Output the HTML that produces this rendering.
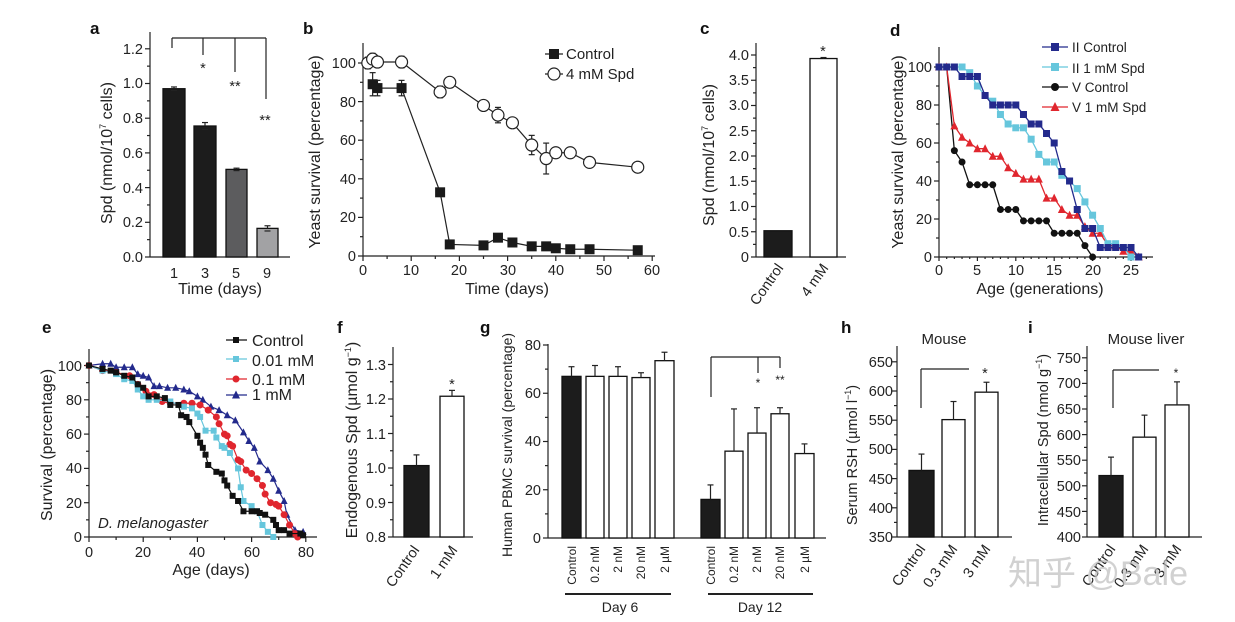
<!DOCTYPE html>
<html><head><meta charset="utf-8"><style>
body{margin:0;background:#fff}
svg{display:block;font-family:"Liberation Sans","Noto Sans CJK SC",sans-serif}
.t{font-size:14.5px;fill:#222}
.e{text-anchor:end}
.m{text-anchor:middle}
.al{font-size:16px;fill:#222;text-anchor:middle}
.p{font-size:17px;font-weight:bold;fill:#111}
</style></head><body>
<svg id="s" width="1235" height="622" viewBox="0 0 1235 622" xmlns="http://www.w3.org/2000/svg">
<g id="g"></g>
<text class="p" x="90" y="34">a</text><text class="p" x="303" y="34">b</text><text class="p" x="700" y="34">c</text><text class="p" x="890" y="36">d</text>
<text class="p" x="42" y="333">e</text><text class="p" x="337" y="333">f</text><text class="p" x="480" y="333">g</text><text class="p" x="841" y="333">h</text><text class="p" x="1028" y="333">i</text>
<!-- a -->
<g class="t e"><text x="143" y="262">0.0</text><text x="143" y="227">0.2</text><text x="143" y="193">0.4</text><text x="143" y="158">0.6</text><text x="143" y="123">0.8</text><text x="143" y="88">1.0</text><text x="143" y="54">1.2</text></g>
<g class="t m"><text x="174" y="278">1</text><text x="205" y="278">3</text><text x="236" y="278">5</text><text x="267" y="278">9</text></g>
<text class="al" x="220" y="294">Time (days)</text>
<text class="al" transform="translate(112,153) rotate(-90)">Spd (nmol/10<tspan font-size="9" dy="-6">7</tspan><tspan dy="6"> cells)</tspan></text>
<g class="t m"><text x="203" y="73">*</text><text x="235" y="91">**</text><text x="265" y="125">**</text></g>
<!-- b -->
<g class="t e"><text x="356" y="261">0</text><text x="356" y="222">20</text><text x="356" y="184">40</text><text x="356" y="145">60</text><text x="356" y="107">80</text><text x="356" y="68">100</text></g>
<g class="t m"><text x="363" y="275">0</text><text x="411" y="275">10</text><text x="459" y="275">20</text><text x="508" y="275">30</text><text x="556" y="275">40</text><text x="604" y="275">50</text><text x="652" y="275">60</text></g>
<text class="al" x="507" y="294">Time (days)</text>
<text class="al" transform="translate(320,152) rotate(-90)">Yeast survival (percentage)</text>
<text class="t" x="566" y="59" style="font-size:15px">Control</text><text class="t" x="566" y="79" style="font-size:15px">4 mM Spd</text>
<!-- c -->
<g class="t e"><text x="749" y="262">0</text><text x="749" y="237">0.5</text><text x="749" y="211">1.0</text><text x="749" y="186">1.5</text><text x="749" y="161">2.0</text><text x="749" y="136">2.5</text><text x="749" y="110">3.0</text><text x="749" y="85">3.5</text><text x="749" y="60">4.0</text></g>
<text class="al" transform="translate(714,155) rotate(-90)">Spd (nmol/10<tspan font-size="9" dy="-6">7</tspan><tspan dy="6"> cells)</tspan></text>
<text class="t e" transform="translate(784,268) rotate(-55)">Control</text>
<text class="t e" transform="translate(829,268) rotate(-55)">4 mM</text>
<text class="t m" x="823" y="56">*</text>
<!-- d -->
<g class="t e"><text x="932" y="262">0</text><text x="932" y="224">20</text><text x="932" y="186">40</text><text x="932" y="148">60</text><text x="932" y="110">80</text><text x="932" y="72">100</text></g>
<g class="t m"><text x="939" y="275">0</text><text x="977" y="275">5</text><text x="1016" y="275">10</text><text x="1054" y="275">15</text><text x="1093" y="275">20</text><text x="1131" y="275">25</text></g>
<text class="al" x="1040" y="294">Age (generations)</text>
<text class="al" transform="translate(903,152) rotate(-90)">Yeast survival (percentage)</text>
<g class="t" style="font-size:13.5px"><text x="1072" y="52">II Control</text><text x="1072" y="73">II 1 mM Spd</text><text x="1072" y="92">V Control</text><text x="1072" y="112">V 1 mM Spd</text></g>
<!-- e -->
<g class="t e"><text x="82" y="542">0</text><text x="82" y="508">20</text><text x="82" y="473">40</text><text x="82" y="439">60</text><text x="82" y="405">80</text><text x="82" y="371">100</text></g>
<g class="t m"><text x="89" y="557">0</text><text x="143" y="557">20</text><text x="197" y="557">40</text><text x="252" y="557">60</text><text x="306" y="557">80</text></g>
<text class="al" x="211" y="575">Age (days)</text>
<text class="al" transform="translate(52,445) rotate(-90)">Survival (percentage)</text>
<text class="t" x="98" y="528" style="font-style:italic;font-size:15px">D. melanogaster</text>
<g class="t" style="font-size:16px"><text x="252" y="346">Control</text><text x="252" y="366">0.01 mM</text><text x="252" y="385">0.1 mM</text><text x="252" y="400">1 mM</text></g>
<!-- f -->
<g class="t e"><text x="386" y="542">0.8</text><text x="386" y="508">0.9</text><text x="386" y="473">1.0</text><text x="386" y="439">1.1</text><text x="386" y="404">1.2</text><text x="386" y="370">1.3</text></g>
<text class="al" transform="translate(357,440) rotate(-90)">Endogenous Spd (µmol g<tspan font-size="9" dy="-6">−1</tspan><tspan dy="6">)</tspan></text>
<text class="t e" transform="translate(420,550) rotate(-55)">Control</text>
<text class="t e" transform="translate(458,550) rotate(-55)">1 mM</text>
<text class="t m" x="452" y="389">*</text>
<!-- g -->
<g class="t e"><text x="541" y="543">0</text><text x="541" y="495">20</text><text x="541" y="446">40</text><text x="541" y="398">60</text><text x="541" y="350">80</text></g>
<text class="al" transform="translate(512,445) rotate(-90)" style="font-size:14px">Human PBMC survival (percentage)</text>
<g class="t e" style="font-size:12px">
<text transform="translate(576,546) rotate(-90)">Control</text><text transform="translate(599,546) rotate(-90)">0.2 nM</text><text transform="translate(622,546) rotate(-90)">2 nM</text><text transform="translate(645,546) rotate(-90)">20 nM</text><text transform="translate(669,546) rotate(-90)">2 µM</text>
<text transform="translate(715,546) rotate(-90)">Control</text><text transform="translate(738,546) rotate(-90)">0.2 nM</text><text transform="translate(761,546) rotate(-90)">2 nM</text><text transform="translate(784,546) rotate(-90)">20 nM</text><text transform="translate(809,546) rotate(-90)">2 µM</text></g>
<text class="al" x="620" y="612" style="font-size:14px">Day 6</text><text class="al" x="760" y="612" style="font-size:14px">Day 12</text>
<g class="t m" style="font-size:12px"><text x="758" y="387">*</text><text x="780" y="384">**</text></g>
<!-- h -->
<g class="t e" style="font-size:14.5px"><text x="893" y="542">350</text><text x="893" y="513">400</text><text x="893" y="484">450</text><text x="893" y="454">500</text><text x="893" y="425">550</text><text x="893" y="396">600</text><text x="893" y="367">650</text></g>
<text class="al" transform="translate(857,455) rotate(-90)" style="font-size:14.5px">Serum RSH (µmol l<tspan font-size="9" dy="-6">−1</tspan><tspan dy="6">)</tspan></text>
<text class="al" x="944" y="344" style="font-size:15px">Mouse</text>
<g class="t e" style="font-size:14.5px"><text transform="translate(926,549) rotate(-55)">Control</text><text transform="translate(958,549) rotate(-55)">0.3 mM</text><text transform="translate(991,549) rotate(-55)">3 mM</text></g>
<text class="t m" x="985" y="378">*</text>
<!-- i -->
<g class="t e" style="font-size:14.5px"><text x="1081" y="542">400</text><text x="1081" y="517">450</text><text x="1081" y="491">500</text><text x="1081" y="465">550</text><text x="1081" y="440">600</text><text x="1081" y="414">650</text><text x="1081" y="388">700</text><text x="1081" y="363">750</text></g>
<text class="al" transform="translate(1048,440) rotate(-90)" style="font-size:14.5px">Intracellular Spd (nmol g<tspan font-size="9" dy="-6">−1</tspan><tspan dy="6">)</tspan></text>
<text class="al" x="1146" y="344" style="font-size:15px">Mouse liver</text>
<g class="t e" style="font-size:14.5px"><text transform="translate(1116,549) rotate(-55)">Control</text><text transform="translate(1149,549) rotate(-55)">0.3 mM</text><text transform="translate(1182,549) rotate(-55)">3 mM</text></g>
<text class="t m" x="1176" y="377" style="font-size:12px">*</text>
<text x="1008" y="585" style="font-size:34px;fill:rgba(190,190,190,0.7)">知乎 @Bale</text>
</svg>
<script>
const G=document.getElementById('g');const NS='http://www.w3.org/2000/svg';
function E(t,a){const e=document.createElementNS(NS,t);for(const k in a)e.setAttribute(k,a[k]);G.appendChild(e);return e;}
function L(x1,y1,x2,y2,c='#222',w=1.2){E('line',{x1,y1,x2,y2,stroke:c,'stroke-width':w});}
function R(x,y,w,h,f,s='#111'){E('rect',{x,y,width:w,height:h,fill:f,stroke:s,'stroke-width':1.3});}
function axes(x0,y0,top,right,yt,xt){L(x0,top,x0,y0);L(x0,y0,right,y0);
 (yt||[]).forEach(([y,l])=>L(x0-l,y,x0,y));(xt||[]).forEach(([x,l])=>L(x,y0,x,y0+l));}
function rng(a,b,s){const r=[];for(let v=a;v<=b+1e-9;v+=s)r.push(v);return r;}
function yt(y0,step,n,minor){const r=[];for(let k=0;k<=n;k++){r.push([y0-k*step,5]);if(minor&&k<n)r.push([y0-(k+.5)*step,3]);}return r;}
function bar(x1,x2,y0,yv,ye,f){R(x1,yv,x2-x1,y0-yv,f);if(ye!=null){const c=(x1+x2)/2;L(c,yv,c,ye);L(c-3,ye,c+3,ye);}}
// a
axes(150,257,32,290,yt(257,34.7,6,true).concat([[150,0]]));
const ya=v=>257-v/0.2*34.7;
[[163,185,.97,.98,'#1c1c1c'],[194,216,.755,.775,'#1c1c1c'],[226,247,.505,.512,'#5c5c5e'],[257,278,.165,.18,'#a2a2a4']].forEach(b=>{bar(b[0],b[1],257,ya(b[2]),ya(b[3]),b[4]);L((b[0]+b[1])/2-3,ya(2*b[2]-b[3]),(b[0]+b[1])/2+3,ya(2*b[2]-b[3]));});
L(172,38,266,38);L(172,38,172,48);L(203,38,203,55);L(235,38,235,72);L(266,38,266,99);
// b
const xb=v=>363+v*4.82,yb=v=>256-v*1.93;
axes(363,256,43,655,yt(256,38.6,5,true),rng(0,60,5).map(v=>[xb(v),v%10?3:5]));
const bc=[[2,89,6],[3,87,4],[8,87,4],[16,33],[18,6],[25,5.5],[28,9.5],[31,7],[35,5],[38,5],[40,4],[43,3.5],[47,3.5],[57,3]];
const bs=[[1,100,3],[2,102,3],[3,100.5],[8,100.5,3],[16,85,3],[18,90],[25,78],[28,73,4],[31,69],[35,57.5,5],[38,50.5,8],[40,53.5,2],[43,53.5,2],[47,48.5,2],[57,46]];
function series(d,X,Y,c,w){E('polyline',{points:d.map(p=>X(p[0])+','+Y(p[1])).join(' '),fill:'none',stroke:c,'stroke-width':w||1.2});}
function errs(d,X,Y){d.forEach(p=>{if(p[2]){const x=X(p[0]);L(x,Y(p[1]-p[2]),x,Y(p[1]+p[2]));L(x-3,Y(p[1]-p[2]),x+3,Y(p[1]-p[2]));L(x-3,Y(p[1]+p[2]),x+3,Y(p[1]+p[2]));}});}
errs(bc,xb,yb);errs(bs,xb,yb);
series(bc,xb,yb,'#222');series(bs,xb,yb,'#222');
bc.forEach(p=>E('rect',{x:xb(p[0])-5,y:yb(p[1])-5,width:10,height:10,fill:'#1a1a1a'}));
bs.forEach(p=>E('circle',{cx:xb(p[0]),cy:yb(p[1]),r:6,fill:'#fff',stroke:'#222','stroke-width':1.2}));
L(545,54,563,54);E('rect',{x:549,y:49,width:10,height:10,fill:'#1a1a1a'});
L(545,74,563,74);E('circle',{cx:554,cy:74,r:6,fill:'#fff',stroke:'#222','stroke-width':1.2});
// c
axes(756,257,43,846,yt(257,25.25,8,true));
const yc=v=>257-v/0.5*25.25;
bar(764,792,257,yc(.52),null,'#1c1c1c');bar(810,837,257,yc(3.93),yc(3.95),'#fff');
// d
const xd=v=>939+v*7.68,yd=v=>257-v*1.9;
axes(939,257,47,1153,yt(257,38,5,true),rng(0,27,1).map(v=>[xd(v),v%5?2:4]));
const dIIc=[100,100,100,95,95,95,85,80,80,80,80,75,70,70,65,60,45,40,25,15,15,5,5,5,5,5,0];
const dIIs=[100,100,100,100,97,90,85,82,75,70,68,68,62,54,50,50,43,40,36,29,22,15,7,7,5,0];
const dVc=[100,100,56,50,38,38,38,38,25,25,25,19,19,19,19,12.5,12.5,12.5,12.5,6,0];
const dVs=[100,100,69,63,60,57,57,53,53,47,44,41,41,41,31,31,25,22,22,16,12.5,12.5,6,6,3,3,0];
function mk(type,x,y,c,s){if(type=='sq')E('rect',{x:x-s/2,y:y-s/2,width:s,height:s,fill:c});else if(type=='ci')E('circle',{cx:x,cy:y,r:s/2,fill:c});else E('polygon',{points:`${x},${y-s/2-1} ${x-s/2-0.5},${y+s/2} ${x+s/2+0.5},${y+s/2}`,fill:c});}
[[dVc,'#111','ci'],[dVs,'#e0262e','tr'],[dIIs,'#66c6dc','sq'],[dIIc,'#232a8c','sq']].forEach(([d,c,t])=>{const pts=d.map((v,i)=>[i,v]);series(pts,xd,yd,c,1.3);pts.forEach(p=>mk(t,xd(p[0]),yd(p[1]),c,7));});
[['#232a8c','sq',47],['#66c6dc','sq',67],['#111','ci',87],['#e0262e','tr',107]].forEach(([c,t,y])=>{L(1042,y,1068,y,c,1.3);mk(t,1055,y,c,8);});
// e
const xe=v=>89+v*2.71,ye=v=>537-v*1.715;
axes(89,537,349,317,yt(537,34.3,5,true),rng(0,85,10).map(v=>[xe(v),v%20?3:5]));
const eC=[[0,100],[5,98],[8,97],[10,96],[13,94],[16,93],[18,89],[20,87],[22,82],[25,82],[28,81],[30,77],[33,77],[34,71],[36,70],[37,67],[40,59],[41,55],[42,52],[43,48],[44,42],[47,38],[49,37],[50,33],[51,30],[53,24],[55,21],[57,15],[60,15],[62,15],[63,14],[65,13],[68,10],[69,7],[70,4],[72,4],[74,2],[78,2],[79,1]];
const eL=[[0,100],[5,97],[10,95],[13,92],[16,91],[18,86],[20,82],[22,80],[25,80],[30,79],[35,76],[38,75],[40,72],[41,70],[43,62],[46,62],[47,58],[49,53],[50,52],[52,49],[55,40],[56,29],[57,21],[60,18],[62,15],[64,7],[66,3],[68,0]];
const eR=[[0,100],[5,97],[10,96],[15,94],[18,89],[21,85],[24,83],[27,79],[30,78],[35,78],[38,78],[41,77],[44,74],[47,70],[48,66],[50,60],[51,59],[52,54],[53,53],[55,45],[56,44],[58,39],[60,37],[62,34],[64,30],[65,25],[67,20],[69,19],[70,18],[72,13],[74,7],[76,2],[77,0]];
const eB=[[0,100],[5,101],[8,101],[10,99],[13,99],[16,99],[18,95],[20,94],[22,93],[24,88],[26,88],[29,87],[32,87],[35,86],[37,85],[40,82],[42,80],[45,76],[48,74],[51,71],[54,68],[57,61],[59,56],[61,52],[63,44],[66,39],[68,34],[70,27],[72,21],[73,13],[76,4],[79,3]];
[[eB,'#232a8c','tr',6],[eR,'#e0262e','ci',7],[eL,'#66c6dc','sq',6],[eC,'#111','sq',6]].forEach(([d,c,t,s])=>{series(d,xe,ye,c,1.2);d.forEach(p=>mk(t,xe(p[0]),ye(p[1]),c,s));});
[['#111','sq',340,6],['#66c6dc','sq',359,6],['#e0262e','ci',379,7],['#232a8c','tr',395,7]].forEach(([c,t,y,s])=>{L(226,y,247,y,c,1.3);mk(t,236,y,c,s);});
// f
axes(393,537,347,473,yt(537,34.5,5,true));
const yf=v=>537-(v-0.8)/0.1*34.5;
bar(404,429,537,yf(1.007),yf(1.038),'#1c1c1c');bar(440,464,537,yf(1.208),yf(1.225),'#fff');
// g
axes(548,538,344,826,yt(538,48.25,4,true));
const yg=v=>538-v*2.4125;
[[562,581,67,71,'#1c1c1c'],[586,604,67,71.5],[609,627,67,71],[632,650,66.5,68.5],[655,674,73.5,77],[701,720,16,22,'#1c1c1c'],[725,743,36,53.5],[748,766,43.5,54],[771,789,51.5,54],[795,814,35,39]].forEach(b=>bar(b[0],b[1],538,yg(b[2]),yg(b[3]),b[4]||'#fff'));
L(711,357,780,357);L(711,357,711,397);L(758,357,758,373);L(780,357,780,368);
L(565,594,671,594,'#222',2);L(708,594,813,594,'#222',2);
// h
axes(897,537,346,1012,yt(537,29.2,6,true));
const yh=v=>537-(v-350)/50*29.2;
bar(909,934,537,yh(464),yh(492),'#1c1c1c');bar(942,965,537,yh(551),yh(582),'#fff');bar(975,998,537,yh(598),yh(615),'#fff');
L(921,369,969,369);L(921,369,921,408);
// i
axes(1087,537,346,1202,yt(537,25.6,7,true));
const yi=v=>537-(v-400)/50*25.6;
bar(1099,1123,537,yi(520),yi(556),'#1c1c1c');bar(1133,1156,537,yi(595),yi(638),'#fff');bar(1165,1189,537,yi(658),yi(703),'#fff');
L(1113,370,1159,370);L(1113,370,1113,408);
</script>
</body></html>
